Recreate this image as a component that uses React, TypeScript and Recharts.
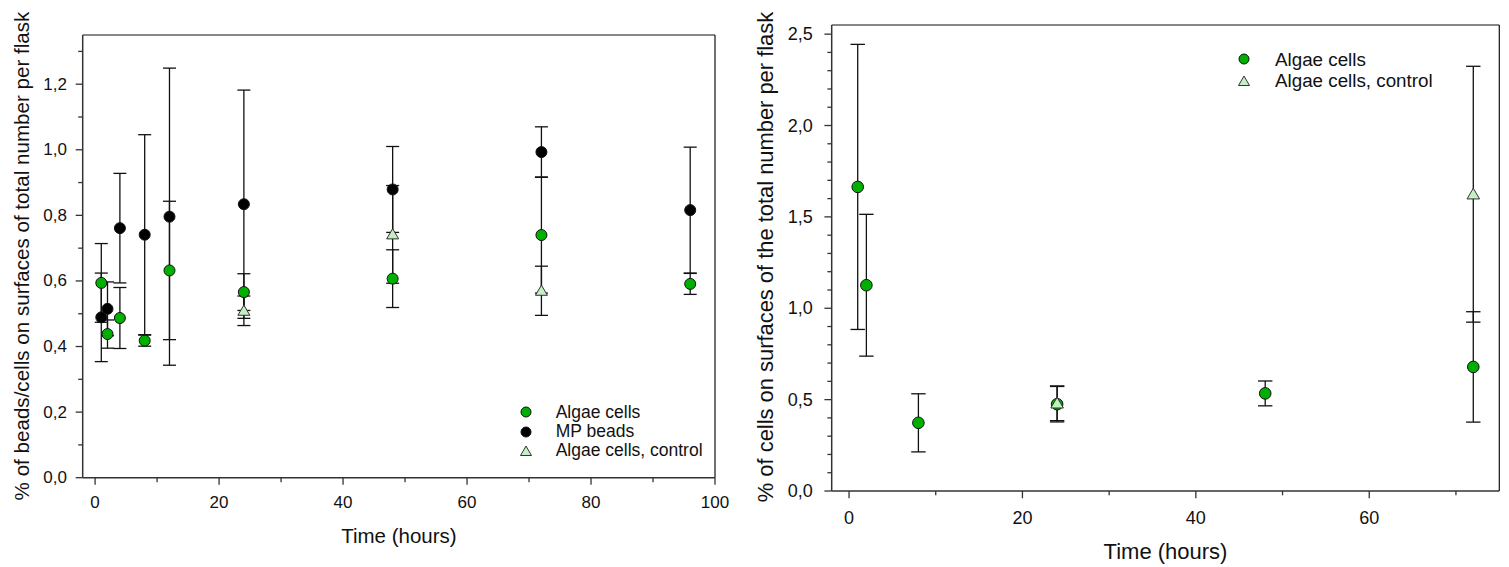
import React from 'react';
import { ScatterChart, Scatter, XAxis, YAxis, ErrorBar, Legend, ReferenceLine } from 'recharts';

const FONT = '"Liberation Sans", Arial, Helvetica, sans-serif';
const GREEN = '#00b000';
const PALE = '#c4eec4';
const AXIS = '#333333';

// ---------- Left panel data ----------
const leftTimes = [1, 2, 4, 8, 12, 24, 48, 72, 96];
const leftAlgae = [0.594, 0.438, 0.487, 0.418, 0.632, 0.566, 0.607, 0.74, 0.591];
const leftAlgaeErr = [0.12, 0.043, 0.093, 0.017, 0.211, 0.056, 0.088, 0.177, 0.032];
const leftBeads = [0.489, 0.515, 0.761, 0.741, 0.796, 0.834, 0.879, 0.993, 0.816];
const leftBeadsErr = [0.135, 0.082, 0.167, 0.305, 0.453, 0.348, 0.131, 0.077, 0.192];
const leftCtrlTimes = [24, 48, 72];
const leftCtrl = [0.509, 0.742, 0.57];
const leftCtrlErr = [0.045, 0.149, 0.075];
const leftXTicks = [0, 10, 20, 30, 40, 50, 60, 70, 80, 90, 100];
const leftYTicks = [0, 0.1, 0.2, 0.3, 0.4, 0.5, 0.6, 0.7, 0.8, 0.9, 1.0, 1.1, 1.2, 1.3];
const leftXDomain = [-2, 100];
const leftYDomain = [0, 1.35];

// ---------- Right panel data ----------
const rightTimes = [1, 2, 8, 24, 48, 72];
const rightAlgae = [1.664, 1.126, 0.373, 0.475, 0.534, 0.679];
const rightAlgaeErr = [0.78, 0.388, 0.159, 0.097, 0.068, 0.302];
const rightCtrlTimes = [24, 72];
const rightCtrl = [0.48, 1.624];
const rightCtrlErr = [0.095, 0.7];
const rightXTicks = [0, 10, 20, 30, 40, 50, 60, 70];
const rightYTicks = [
  0, 0.1, 0.2, 0.3, 0.4, 0.5, 0.6, 0.7, 0.8, 0.9, 1.0, 1.1, 1.2, 1.3, 1.4, 1.5, 1.6, 1.7, 1.8,
  1.9, 2.0, 2.1, 2.2, 2.3, 2.4, 2.5,
];
const rightXDomain = [-2, 75];
const rightYDomain = [0, 2.55];

const build = (xs: number[], ys: number[], es: number[]) =>
  xs.map((x, i) => ({ x, y: ys[i], err: es[i] }));

const leftAlgaeData = build(leftTimes, leftAlgae, leftAlgaeErr);
const leftBeadsData = build(leftTimes, leftBeads, leftBeadsErr);
const leftCtrlData = build(leftCtrlTimes, leftCtrl, leftCtrlErr);
const rightAlgaeData = build(rightTimes, rightAlgae, rightAlgaeErr);
const rightCtrlData = build(rightCtrlTimes, rightCtrl, rightCtrlErr);

// ---------- Marker shapes ----------
const circleShape = (fill: string, r: number) => (p: any) =>
  p.cx == null ? <g /> : <circle cx={p.cx} cy={p.cy} r={r} fill={fill} stroke="#111" strokeWidth={1} />;

const triShape = (s: number) => (p: any) => {
  if (p.cx == null) return <g />;
  const { cx, cy } = p;
  const d = `M${cx},${cy - s * 0.95} L${cx - s},${cy + s * 0.75} L${cx + s},${cy + s * 0.75} Z`;
  return <path d={d} fill={PALE} stroke="#333" strokeWidth={1} />;
};

// ---------- Ticks ----------
const isMult = (v: number, m: number) => Math.abs(v / m - Math.round(v / m)) < 1e-6;

const makeXTick = (majorStep: number, majorLen: number, minorLen: number, fs: number, dy: number) =>
  (p: any) => {
    const v = p.payload.value;
    const major = isMult(v, majorStep);
    return (
      <g>
        <line x1={p.x} x2={p.x} y1={p.y} y2={p.y + (major ? majorLen : minorLen)} stroke={AXIS} strokeWidth={1.3} />
        {major && (
          <text x={p.x} y={p.y + dy} textAnchor="middle" fontSize={fs} fontFamily={FONT} fill="#111">
            {String(v)}
          </text>
        )}
      </g>
    );
  };

const makeYTick = (majorStep: number, majorLen: number, minorLen: number, fs: number, gap: number) =>
  (p: any) => {
    const v = p.payload.value;
    const major = isMult(v, majorStep);
    return (
      <g>
        <line x1={p.x} x2={p.x - (major ? majorLen : minorLen)} y1={p.y} y2={p.y} stroke={AXIS} strokeWidth={1.3} />
        {major && (
          <text x={p.x - gap} y={p.y} textAnchor="end" dominantBaseline="central" fontSize={fs} fontFamily={FONT} fill="#111">
            {v.toFixed(1).replace('.', ',')}
          </text>
        )}
      </g>
    );
  };

// ---------- Titles ----------
const HTitle = (p: any) => (
  <text x={p.px} y={p.py} textAnchor="middle" fontSize={p.fs} fontFamily={FONT} fill="#111">
    {p.txt}
  </text>
);
const VTitle = (p: any) => (
  <text
    x={p.px}
    y={p.py}
    transform={`rotate(-90 ${p.px} ${p.py})`}
    textAnchor="middle"
    dominantBaseline="central"
    fontSize={p.fs}
    fontFamily={FONT}
    fill="#111"
  >
    {p.txt}
  </text>
);

// ---------- Legend ----------
type LegItem = { name: string; kind: 'green' | 'black' | 'tri' };
const leftLegend: LegItem[] = [
  { name: 'Algae cells', kind: 'green' },
  { name: 'MP beads', kind: 'black' },
  { name: 'Algae cells, control', kind: 'tri' },
];
const rightLegend: LegItem[] = [
  { name: 'Algae cells', kind: 'green' },
  { name: 'Algae cells, control', kind: 'tri' },
];

const LegendSym = ({ kind }: { kind: string }) => (
  <svg width={12} height={12} style={{ display: 'block', overflow: 'visible' }}>
    {kind === 'tri' ? (
      <path d="M6,1 L0.5,10.5 L11.5,10.5 Z" fill={PALE} stroke="#333" strokeWidth={1} />
    ) : (
      <circle cx={6} cy={6} r={5} fill={kind === 'green' ? GREEN : '#000'} stroke="#111" strokeWidth={1} />
    )}
  </svg>
);

const LegendBox = ({ items, fs, rowH, gap }: { items: LegItem[]; fs: number; rowH: number; gap: number }) => (
  <div style={{ fontFamily: FONT, fontSize: fs, color: '#111' }}>
    {items.map((it) => (
      <div key={it.name} style={{ display: 'flex', alignItems: 'center', height: rowH, whiteSpace: 'nowrap' }}>
        <LegendSym kind={it.kind} />
        <span style={{ marginLeft: gap, lineHeight: `${rowH}px` }}>{it.name}</span>
      </div>
    ))}
  </div>
);

const axisLine = { stroke: AXIS, strokeWidth: 1.5 };

export default function App() {
  return (
    <div style={{ position: 'absolute', left: 0, top: 0, width: 1509, height: 567, background: '#fff' }}>
      <div style={{ position: 'absolute', left: 0, top: 0 }}>
        <ScatterChart width={740} height={567} margin={{ top: 35, right: 25, bottom: 0, left: 0 }}>
          <XAxis
            dataKey="x"
            type="number"
            domain={leftXDomain}
            ticks={leftXTicks}
            interval={0}
            height={89.3}
            tickSize={0}
            tickMargin={0}
            tickLine={false}
            axisLine={axisLine}
            tick={makeXTick(20, 7, 4.5, 17, 30.6)}
            allowDataOverflow
            label={<HTitle px={398.9} py={543} fs={20.5} txt="Time (hours)" />}
          />
          <YAxis
            dataKey="y"
            type="number"
            domain={leftYDomain}
            ticks={leftYTicks}
            interval={0}
            width={82.7}
            tickSize={0}
            tickMargin={0}
            tickLine={false}
            axisLine={axisLine}
            tick={makeYTick(0.2, 7, 4.5, 17, 15.7)}
            allowDataOverflow
            label={<VTitle px={21} py={256} fs={20.6} txt="% of beads/cells on surfaces of total number per flask" />}
          />
          <ReferenceLine y={leftYDomain[1]} stroke="#111" strokeWidth={1.2} ifOverflow="visible" />
          <ReferenceLine x={leftXDomain[1]} stroke="#111" strokeWidth={1.2} ifOverflow="visible" />
          <Scatter name="Algae cells" data={leftAlgaeData} shape={circleShape(GREEN, 5.5)} isAnimationActive={false}>
            <ErrorBar dataKey="err" direction="y" width={6.5} stroke="#111" strokeWidth={1.3} />
          </Scatter>
          <Scatter name="MP beads" data={leftBeadsData} shape={circleShape('#000', 5.5)} isAnimationActive={false}>
            <ErrorBar dataKey="err" direction="y" width={6.5} stroke="#111" strokeWidth={1.3} />
          </Scatter>
          <Scatter name="Algae cells, control" data={leftCtrlData} shape={triShape(6)} isAnimationActive={false}>
            <ErrorBar dataKey="err" direction="y" width={6.5} stroke="#111" strokeWidth={1.3} />
          </Scatter>
          <Legend
            layout="vertical"
            verticalAlign="middle"
            align="center"
            wrapperStyle={{ left: 520, top: 402.6, width: 220 }}
            content={<LegendBox items={leftLegend} fs={17.5} rowH={19.4} gap={23.7} />}
          />
        </ScatterChart>
      </div>
      <div style={{ position: 'absolute', left: 740, top: 0 }}>
        <ScatterChart width={769} height={567} margin={{ top: 25, right: 9.7, bottom: 0, left: 0 }}>
          <XAxis
            dataKey="x"
            type="number"
            domain={rightXDomain}
            ticks={rightXTicks}
            interval={0}
            height={76}
            tickSize={0}
            tickMargin={0}
            tickLine={false}
            axisLine={axisLine}
            tick={makeXTick(20, 7.3, 4.3, 18, 33.3)}
            allowDataOverflow
            label={<HTitle px={425.5} py={559} fs={22} txt="Time (hours)" />}
          />
          <YAxis
            dataKey="y"
            type="number"
            domain={rightYDomain}
            ticks={rightYTicks}
            interval={0}
            width={91.7}
            tickSize={0}
            tickMargin={0}
            tickLine={false}
            axisLine={axisLine}
            tick={makeYTick(0.5, 7.3, 4.3, 18, 19)}
            allowDataOverflow
            label={<VTitle px={25} py={257} fs={21.9} txt="% of cells on surfaces of the total number per flask" />}
          />
          <ReferenceLine y={rightYDomain[1]} stroke="#111" strokeWidth={1.2} ifOverflow="visible" />
          <ReferenceLine x={rightXDomain[1]} stroke="#111" strokeWidth={1.2} ifOverflow="visible" />
          <Scatter name="Algae cells" data={rightAlgaeData} shape={circleShape(GREEN, 5.8)} isAnimationActive={false}>
            <ErrorBar dataKey="err" direction="y" width={7.2} stroke="#111" strokeWidth={1.3} />
          </Scatter>
          <Scatter name="Algae cells, control" data={rightCtrlData} shape={triShape(6.3)} isAnimationActive={false}>
            <ErrorBar dataKey="err" direction="y" width={7.2} stroke="#111" strokeWidth={1.3} />
          </Scatter>
          <Legend
            layout="vertical"
            verticalAlign="middle"
            align="center"
            wrapperStyle={{ left: 498.3, top: 48.6, width: 250 }}
            content={<LegendBox items={rightLegend} fs={18.8} rowH={21.4} gap={24.7} />}
          />
        </ScatterChart>
      </div>
    </div>
  );
}
